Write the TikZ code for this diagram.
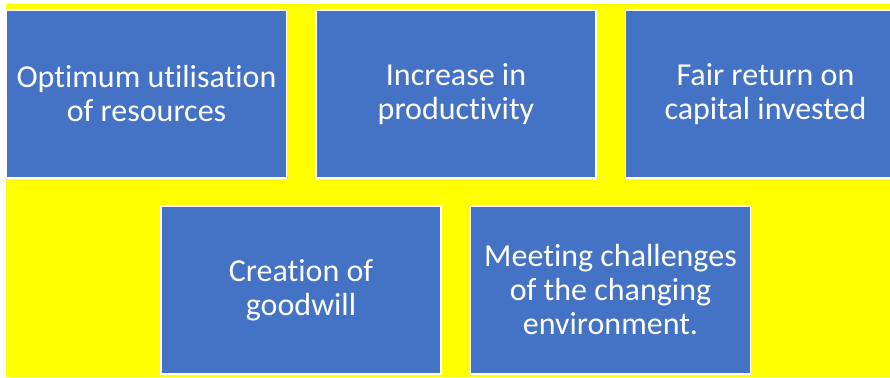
\documentclass[tikz,border=0pt]{standalone}
\usepackage{fontspec}
\setmainfont{Carlito}[Ligatures={NoCommon}]
\usetikzlibrary{positioning}

\definecolor{boxblue}{HTML}{4472C4}
\definecolor{bgyellow}{HTML}{FFFF00}

\tikzset{
  goalbox/.style={draw=white, line width=1.5pt, fill=boxblue, text=white,
    minimum width=280pt, minimum height=168pt, inner sep=2pt,
    align=center, font=\fontsize{32}{34}\selectfont}
}

\begin{document}
\begin{tikzpicture}[x=1pt, y=1pt]

% Page frame
\useasboundingbox (0,0) rectangle (890,377);
\clip (0,0) rectangle (890,377);
\fill[white] (0,0) rectangle (890,377);

% Yellow background
\fill[bgyellow] (6,0) rectangle (890,373);

% Top row
\node[goalbox] (util) at (146.5,283) {Optimum utilisation\\of resources};
\node[goalbox, right=28pt of util] (prod) {Increase in\\productivity};
\node[goalbox, right=28pt of prod] (ret) {Fair return on\\capital invested};

% Bottom row
\node[goalbox] (good) at (301,87) {Creation of\\goodwill};
\node[goalbox, right=28pt of good] (env) {Meeting challenges\\of the changing\\environment.};

\end{tikzpicture}
\end{document}
